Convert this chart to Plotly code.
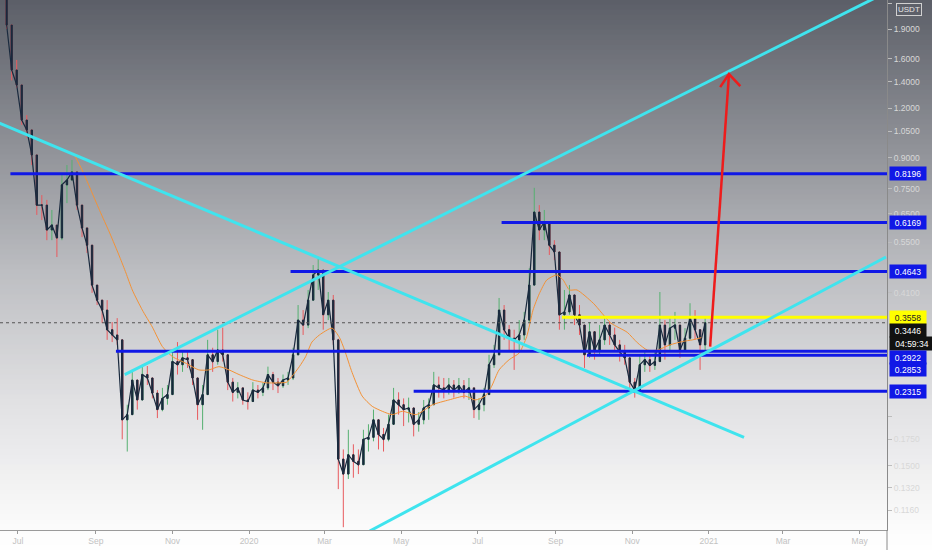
import numpy as np
import pandas as pd
import plotly.graph_objects as go

# ---------------- data ----------------
candle_start = "2019-06-22"
candle_step_days = 4
first_open = 2.30

close = [1.946, 1.498, 1.373, 1.120, 1.057, 0.914, 0.683, 0.683, 0.591, 0.608,
         0.564, 0.768, 0.790, 0.828, 0.683, 0.598, 0.541, 0.429, 0.393, 0.371,
         0.331, 0.321, 0.312, 0.196, 0.202, 0.247, 0.220, 0.255, 0.250, 0.229,
         0.208, 0.222, 0.227, 0.275, 0.270, 0.281, 0.278, 0.250, 0.214, 0.227,
         0.286, 0.275, 0.294, 0.286, 0.244, 0.230, 0.236, 0.220, 0.218, 0.233,
         0.230, 0.236, 0.255, 0.244, 0.239, 0.247, 0.250, 0.286, 0.350, 0.340,
         0.393, 0.455, 0.468, 0.361, 0.393, 0.312, 0.156, 0.143, 0.160, 0.154,
         0.151, 0.175, 0.177, 0.196, 0.180, 0.175, 0.191, 0.220, 0.214, 0.208,
         0.210, 0.191, 0.196, 0.210, 0.214, 0.240, 0.236, 0.233, 0.240, 0.233,
         0.239, 0.230, 0.236, 0.208, 0.214, 0.227, 0.270, 0.286, 0.371, 0.331,
         0.315, 0.312, 0.321, 0.350, 0.429, 0.656, 0.591, 0.619, 0.541, 0.520,
         0.361, 0.367, 0.405, 0.361, 0.340, 0.286, 0.327, 0.294, 0.312, 0.340,
         0.321, 0.303, 0.291, 0.281, 0.244, 0.233, 0.270, 0.278, 0.269, 0.275,
         0.340, 0.303, 0.334, 0.340, 0.294, 0.315, 0.354, 0.331, 0.303, 0.3446]

high = [2.45, 1.95, 1.588, 1.295, 1.153, 1.057, 0.838, 0.724, 0.704, 0.664,
        0.608, 0.814, 0.862, 0.888, 0.824, 0.645, 0.591, 0.526, 0.429, 0.393,
        0.393, 0.346, 0.354, 0.303, 0.214, 0.262, 0.240, 0.270, 0.268, 0.247,
        0.233, 0.236, 0.240, 0.291, 0.308, 0.294, 0.294, 0.278, 0.247, 0.240,
        0.312, 0.298, 0.331, 0.335, 0.286, 0.250, 0.244, 0.236, 0.230, 0.244,
        0.240, 0.243, 0.267, 0.259, 0.250, 0.255, 0.259, 0.298, 0.382, 0.371,
        0.417, 0.482, 0.502, 0.442, 0.412, 0.405, 0.314, 0.165, 0.185, 0.170,
        0.165, 0.185, 0.191, 0.208, 0.196, 0.187, 0.202, 0.236, 0.230, 0.222,
        0.223, 0.208, 0.205, 0.220, 0.222, 0.259, 0.252, 0.250, 0.250, 0.247,
        0.250, 0.247, 0.250, 0.227, 0.222, 0.236, 0.286, 0.303, 0.398, 0.382,
        0.340, 0.331, 0.350, 0.367, 0.473, 0.755, 0.683, 0.664, 0.584, 0.557,
        0.511, 0.417, 0.429, 0.393, 0.382, 0.331, 0.346, 0.321, 0.340, 0.354,
        0.346, 0.335, 0.312, 0.303, 0.278, 0.250, 0.286, 0.291, 0.286, 0.291,
        0.412, 0.350, 0.354, 0.367, 0.331, 0.334, 0.386, 0.371, 0.321, 0.354]

low = [1.90, 1.41, 1.35, 1.088, 1.009, 0.862, 0.645, 0.626, 0.557, 0.557,
       0.505, 0.557, 0.691, 0.790, 0.664, 0.567, 0.517, 0.410, 0.382, 0.344,
       0.312, 0.308, 0.303, 0.175, 0.163, 0.202, 0.208, 0.220, 0.240, 0.222,
       0.198, 0.206, 0.214, 0.227, 0.255, 0.259, 0.265, 0.240, 0.196, 0.185,
       0.227, 0.259, 0.270, 0.275, 0.233, 0.218, 0.222, 0.214, 0.208, 0.220,
       0.222, 0.225, 0.233, 0.233, 0.229, 0.236, 0.240, 0.247, 0.286, 0.321,
       0.334, 0.393, 0.417, 0.331, 0.350, 0.303, 0.131, 0.105, 0.139, 0.140,
       0.143, 0.154, 0.163, 0.173, 0.165, 0.163, 0.173, 0.198, 0.202, 0.189,
       0.193, 0.178, 0.183, 0.191, 0.196, 0.220, 0.223, 0.222, 0.227, 0.223,
       0.228, 0.222, 0.220, 0.198, 0.196, 0.206, 0.227, 0.265, 0.303, 0.312,
       0.294, 0.262, 0.294, 0.312, 0.346, 0.442, 0.557, 0.557, 0.511, 0.496,
       0.331, 0.331, 0.361, 0.340, 0.321, 0.265, 0.281, 0.278, 0.286, 0.303,
       0.303, 0.291, 0.275, 0.270, 0.233, 0.223, 0.240, 0.259, 0.259, 0.262,
       0.286, 0.278, 0.294, 0.312, 0.281, 0.294, 0.312, 0.312, 0.262, 0.294]

ma_dates = ["2019-08-15", "2019-08-21", "2019-08-27", "2019-09-04", "2019-09-12",
            "2019-09-20", "2019-09-25", "2019-09-30", "2019-10-08", "2019-10-16",
            "2019-10-24", "2019-11-01", "2019-11-12", "2019-11-22", "2019-11-30",
            "2019-12-08", "2019-12-16", "2019-12-24", "2020-01-04", "2020-01-15",
            "2020-01-23", "2020-01-31", "2020-02-04", "2020-02-10", "2020-02-15",
            "2020-02-20", "2020-02-26", "2020-03-07", "2020-03-13", "2020-03-17",
            "2020-03-23", "2020-03-31", "2020-04-08", "2020-04-16", "2020-04-24",
            "2020-05-02", "2020-05-13", "2020-05-26", "2020-06-08", "2020-06-21",
            "2020-06-29", "2020-07-07", "2020-07-12", "2020-07-18", "2020-07-26",
            "2020-08-03", "2020-08-09", "2020-08-14", "2020-08-19", "2020-08-25",
            "2020-09-02", "2020-09-07", "2020-09-12", "2020-09-18", "2020-10-01",
            "2020-10-15", "2020-10-28", "2020-11-05", "2020-11-13", "2020-11-21",
            "2020-12-01", "2020-12-11", "2020-12-19", "2020-12-26"]
ma_values = [0.914, 0.838, 0.759, 0.662, 0.581, 0.505, 0.460, 0.417, 0.371, 0.336,
             0.300, 0.283, 0.272, 0.262, 0.262, 0.267, 0.262, 0.255, 0.247, 0.243,
             0.243, 0.244, 0.252, 0.267, 0.283, 0.308, 0.321, 0.334, 0.316, 0.294,
             0.258, 0.225, 0.212, 0.206, 0.202, 0.206, 0.202, 0.214, 0.220, 0.225,
             0.220, 0.225, 0.238, 0.262, 0.278, 0.289, 0.318, 0.371, 0.408, 0.442,
             0.455, 0.442, 0.417, 0.417, 0.386, 0.344, 0.326, 0.307, 0.294, 0.294,
             0.303, 0.309, 0.312, 0.316]

# horizontal support / resistance levels
blue_levels = [0.8196, 0.6169, 0.4643, 0.2922, 0.2853, 0.2315]
blue_starts = ["2019-06-25", "2020-07-20", "2020-02-03", "2019-09-17", "2020-09-26", "2020-05-11"]
yellow_level = 0.3558
yellow_start = "2020-09-06"
last_price = 0.3446
countdown = "04:59:34"

# cyan trend lines (start date, start price, end date, end price)
trend_lines = [
    ("2019-06-16", 1.10, "2021-01-29", 0.177),
    ("2019-09-24", 0.255, "2021-05-16", 2.30),
    ("2020-04-06", 0.1027, "2021-05-22", 0.505),
]

# red projection arrow
arrow_dates = ["2021-01-02", "2021-01-17"]
arrow_prices = [0.300, 1.463]
arrow_head_dates = ["2021-01-10", "2021-01-17", "2021-01-26"]
arrow_head_prices = [1.356, 1.463, 1.364]

# axis ticks
price_ticks = [2.2, 1.9, 1.6, 1.4, 1.2, 1.05, 0.9, 0.75, 0.65, 0.55, 0.41, 0.2, 0.175, 0.15, 0.132, 0.116]
price_tick_text = ["2.2000", "1.9000", "1.6000", "1.4000", "1.2000", "1.0500", "0.9000", "0.7500",
                   "0.6500", "0.5500", "0.4100", "", "0.1750", "0.1500", "0.1320", "0.1160"]
date_ticks = ["2019-07-01", "2019-09-01", "2019-11-01", "2020-01-01", "2020-03-01", "2020-05-01",
              "2020-07-01", "2020-09-01", "2020-11-01", "2021-01-01", "2021-03-01", "2021-05-01"]
date_tick_text = ["Jul", "Sep", "Nov", "2020", "Mar", "May", "Jul", "Sep", "Nov", "2021", "Mar", "May"]

x_range = ["2019-06-16 17:00", "2021-05-22 19:00"]
y_bounds = [0.1033, 2.25]

# ---------------- styling ----------------
W, H = 932, 550
ML, MR, MT, MB = 0, 45, 0, 20
PH = H - MT - MB
PW = W - ML - MR
BLUE = "#1018e6"
CYAN = "#3fe4ee"
YELLOW = "#ffff00"
RED = "#ee1c1c"
GREEN = "#55b070"
CRED = "#e85a5e"
DARK = "#1a2a3e"
ORANGE = "#f39237"
FONT = "Liberation Sans"

dates = pd.date_range(candle_start, periods=len(close), freq=f"{candle_step_days}D")
opens = [first_open] + close[:-1]
hi = np.maximum.reduce([np.array(high), np.array(opens), np.array(close)])
lo = np.minimum.reduce([np.array(low), np.array(opens), np.array(close)])
body_hi = np.maximum(np.array(opens), np.array(close))
body_lo = np.minimum(np.array(opens), np.array(close))

fig = go.Figure()

# wicks (coloured)
fig.add_trace(go.Candlestick(
    x=dates, open=opens, high=hi, low=lo, close=close,
    increasing=dict(line=dict(color=GREEN, width=1), fillcolor=GREEN),
    decreasing=dict(line=dict(color=CRED, width=1), fillcolor=CRED),
    whiskerwidth=0, hoverinfo="skip", showlegend=False))
# dense close path (mimics the tightly packed daily candles)
fig.add_trace(go.Scatter(x=dates, y=close, mode="lines",
                         line=dict(color=DARK, width=1.2), hoverinfo="skip", showlegend=False))
# dark bodies
fig.add_trace(go.Candlestick(
    x=dates, open=opens, high=body_hi, low=body_lo, close=close,
    increasing=dict(line=dict(color=DARK, width=1), fillcolor=DARK),
    decreasing=dict(line=dict(color=DARK, width=1), fillcolor=DARK),
    whiskerwidth=0, hoverinfo="skip", showlegend=False))

# moving average
fig.add_trace(go.Scatter(x=ma_dates, y=ma_values, mode="lines",
                         line=dict(color=ORANGE, width=1, shape="spline", smoothing=0.6),
                         hoverinfo="skip", showlegend=False))

# current price dotted line
fig.add_trace(go.Scatter(x=x_range, y=[last_price, last_price], mode="lines",
                         line=dict(color="#555555", width=1, dash="dot"),
                         hoverinfo="skip", showlegend=False))

# horizontal levels
for lvl, st in zip(blue_levels, blue_starts):
    fig.add_trace(go.Scatter(x=[st, x_range[1]], y=[lvl, lvl], mode="lines",
                             line=dict(color=BLUE, width=3), hoverinfo="skip", showlegend=False))
fig.add_trace(go.Scatter(x=[yellow_start, x_range[1]], y=[yellow_level, yellow_level], mode="lines",
                         line=dict(color=YELLOW, width=3), hoverinfo="skip", showlegend=False))

# trend lines
for d0, p0, d1, p1 in trend_lines:
    fig.add_trace(go.Scatter(x=[d0, d1], y=[p0, p1], mode="lines",
                             line=dict(color=CYAN, width=3), hoverinfo="skip", showlegend=False))

# arrow
fig.add_trace(go.Scatter(x=arrow_dates, y=arrow_prices, mode="lines",
                         line=dict(color=RED, width=2.5), hoverinfo="skip", showlegend=False))
fig.add_trace(go.Scatter(x=arrow_head_dates, y=arrow_head_prices, mode="lines",
                         line=dict(color=RED, width=2.5), hoverinfo="skip", showlegend=False))

# ---------------- background gradient ----------------
stops_px = [0, 150, 275, 400, 530, 550]
stops_r = [92, 145, 190, 225, 252, 255]
stops_g = [95, 147, 191, 225, 252, 255]
stops_b = [104, 153, 195, 227, 252, 255]
shapes = []
step = 5
for k in range(0, H, step):
    yc = k + step / 2
    r = int(np.interp(yc, stops_px, stops_r))
    g = int(np.interp(yc, stops_px, stops_g))
    b = int(np.interp(yc, stops_px, stops_b))
    y0 = 1 - (k - MT) / PH
    y1 = 1 - (k + step - MT) / PH
    shapes.append(dict(type="rect", xref="paper", yref="paper",
                       x0=-0.01, x1=W / PW + 0.01, y0=y1 - 0.001, y1=y0 + 0.001,
                       line=dict(width=0), fillcolor=f"rgb({r},{g},{b})", layer="below"))
# axis line continuing into the bottom margin
shapes.append(dict(type="line", xref="paper", yref="paper", x0=1, x1=1, y0=-MB / PH, y1=0,
                   line=dict(color="#8a8a8a", width=1)))

# ---------------- price labels on the scale ----------------
ann = []
def box(val, text, bg, fg, yshift=0, width=34):
    ann.append(dict(xref="paper", yref="y", x=1, y=np.log10(val), xanchor="left", yanchor="middle",
                    xshift=2, yshift=yshift, text=text, showarrow=False,
                    font=dict(family=FONT, size=8.5, color=fg), bgcolor=bg, borderpad=1,
                    width=width, height=11, align="center"))

box(0.8196, "0.8196", BLUE, "white")
box(0.6169, "0.6169", BLUE, "white")
box(0.4643, "0.4643", BLUE, "white")
box(yellow_level, "0.3558", YELLOW, "#222222")
box(last_price, "0.3446", "#111111", "white", yshift=-8)
box(last_price, countdown, "#111111", "white", yshift=-21, width=42)
box(0.2922, "0.2922", BLUE, "white", yshift=-6)
box(0.2853, "0.2853", BLUE, "white", yshift=-14)
box(0.2315, "0.2315", BLUE, "white")

ann.append(dict(xref="paper", yref="paper", x=1, y=1, xanchor="left", yanchor="top",
                xshift=9, yshift=-3, text="USDT", showarrow=False,
                font=dict(family=FONT, size=8, color="#e6e6e6"), bgcolor="#5d6069",
                bordercolor="#d0d0d0", borderwidth=1, borderpad=1))

fig.update_layout(
    width=W, height=H,
    margin=dict(l=ML, r=MR, t=MT, b=MB, pad=0),
    paper_bgcolor="white", plot_bgcolor="rgba(0,0,0,0)",
    showlegend=False, shapes=shapes, annotations=ann,
    font=dict(family=FONT),
    boxgap=0.62,
    xaxis=dict(type="date", range=x_range, showgrid=False, zeroline=False,
               showline=True, linecolor="#9a9a9a", linewidth=1,
               ticks="outside", ticklen=3, tickcolor="#9a9a9a",
               tickvals=date_ticks, ticktext=date_tick_text,
               tickfont=dict(family=FONT, size=8.5, color="#c2c2c2"),
               rangeslider=dict(visible=False), fixedrange=True),
    yaxis=dict(type="log", side="right", range=[np.log10(y_bounds[0]), np.log10(y_bounds[1])],
               showgrid=False, zeroline=False, showline=True, linecolor="#8a8a8a", linewidth=1,
               ticks="outside", ticklen=4, tickcolor="#bdbdbd",
               tickvals=price_ticks, ticktext=price_tick_text,
               tickfont=dict(family=FONT, size=8.5, color="#d8d8d8"), fixedrange=True),
)

fig.write_html("out.html", config={"displayModeBar": False},
               post_script="document.body.style.margin='0';document.body.style.overflow='hidden';")
